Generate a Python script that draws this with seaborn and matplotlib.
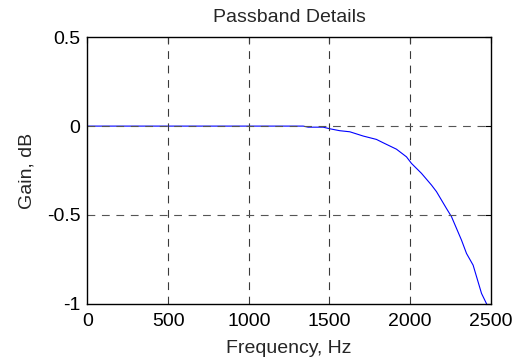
"""Passband detail plot of a low-pass filter response (MATLAB look)."""

import matplotlib
matplotlib.use("Agg")
import matplotlib.pyplot as plt
import seaborn as sns
import pandas as pd

# frequency response
freq_hz = [0, 500, 1000, 1337, 1368, 1461, 1502, 1564, 1626, 1709, 1791,
           1833, 1915, 1977, 2008, 2070, 2132, 2163, 2225, 2256, 2318,
           2349, 2390, 2442, 2473, 2500]
gain_db = [0.0, 0.0, 0.0, 0.0, -0.006, -0.006, -0.015, -0.026, -0.032,
           -0.056, -0.075, -0.094, -0.13, -0.173, -0.21, -0.266, -0.332,
           -0.369, -0.464, -0.51, -0.642, -0.717, -0.783, -0.942, -1.0,
           -1.08]

x_ticks = [0, 500, 1000, 1500, 2000, 2500]
y_ticks = [-1, -0.5, 0, 0.5]
y_tick_labels = ["-1", "-0.5", "0", "0.5"]

df = pd.DataFrame({"freq": freq_hz, "gain": gain_db})

sns.set_theme(style="white")
plt.rcParams["font.family"] = ["Liberation Sans", "DejaVu Sans"]

fig = plt.figure(figsize=(5.2, 3.62), dpi=100)
ax = fig.add_axes([0.168, 0.161, 0.776, 0.736])

sns.lineplot(data=df, x="freq", y="gain", ax=ax, color="#0000ff",
             linewidth=0.8, zorder=3)

ax.set_xlim(0, 2500)
ax.set_ylim(-1, 0.5)
ax.set_xticks(x_ticks)
ax.set_yticks(y_ticks)
ax.set_yticklabels(y_tick_labels)

# MATLAB-style dashed grid, drawn over the curve
for x in x_ticks[1:-1]:
    ax.axvline(x, color="#3a3a3a", linestyle=(0, (7, 6)), linewidth=0.8,
               zorder=4)
for y in [-0.5, 0]:
    ax.axhline(y, color="#555555", linestyle=(0, (7, 6)), linewidth=0.8,
               zorder=4)

for side in ax.spines.values():
    side.set_color("black")
    side.set_linewidth(1.0)
    side.set_zorder(5)

fs = 14
ax.tick_params(direction="in", length=4, width=0.8, colors="black",
               labelsize=fs, top=True, right=True)
ax.tick_params(axis="x", pad=7)
ax.tick_params(axis="y", pad=5)

ax.set_title("Passband Details", fontsize=fs, pad=11)
ax.set_xlabel("Frequency, Hz", fontsize=fs, labelpad=7)
ax.set_ylabel("Gain, dB", fontsize=fs, labelpad=8)

fig.savefig("out.png", dpi=100)
plt.close(fig)
